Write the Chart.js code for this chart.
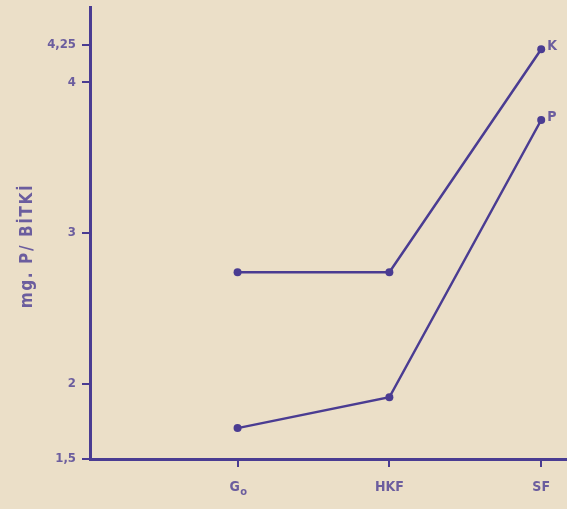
<!DOCTYPE html>
<html>
<head>
<meta charset="utf-8">
<script src="https://cdn.jsdelivr.net/npm/chart.js@4"></script>
<style>
  html, body { margin: 0; padding: 0; background: #ebdfc8; }
  #wrap { width: 567px; height: 509px; position: relative; }
</style>
</head>
<body>
<div id="wrap"><canvas id="grafico"></canvas></div>
<script>
const categories = ['Go', 'HKF', 'SF'];
const serieK = [2.74, 2.74, 4.22];
const serieP = [1.705, 1.91, 3.75];
const seriesNames = ['K', 'P'];
const yTicks = [1.5, 2, 3, 4, 4.25];
const yTickLabels = ['1,5', '2', '3', '4', '4,25'];
const yTitle = 'mg. P/ BİTKİ';

const ink = '#4a3c92';
const textInk = '#6b5d9e';
const fontFam = "'DejaVu Sans Condensed', 'DejaVu Sans', sans-serif";

function pts(arr) {
    return arr.map((v, i) => ({ x: i, y: v }));
}

// names written next to the last point of each line
const endLabels = {
    id: 'endLabels',
    afterDatasetsDraw(chart) {
        const ctx = chart.ctx;
        ctx.save();
        ctx.fillStyle = textInk;
        ctx.font = 'bold 14px ' + fontFam;
        ctx.textBaseline = 'middle';
        chart.data.datasets.forEach((ds, i) => {
            const meta = chart.getDatasetMeta(i);
            const last = meta.data[meta.data.length - 1];
            ctx.fillText(seriesNames[i], last.x + 6, last.y - 3);
        });
        ctx.restore();
    }
};

// category names under the axis (subscript "o" in G_o) and the spaced-out y title
const extraText = {
    id: 'extraText',
    afterDraw(chart) {
        const x = chart.scales.x;
        const a = chart.chartArea;
        const ctx = chart.ctx;
        ctx.save();
        ctx.fillStyle = textInk;
        ctx.textBaseline = 'middle';
        ctx.textAlign = 'center';
        categories.forEach((c, i) => {
            const px = x.getPixelForValue(i);
            ctx.font = 'bold 14px ' + fontFam;
            if (c === 'Go') {
                ctx.fillText('G', px - 3, 487);
                ctx.font = 'bold 11px ' + fontFam;
                ctx.fillText('o', px + 6, 492);
            } else {
                ctx.fillText(c, px, 487);
            }
        });
        ctx.translate(28, (a.top + a.bottom) / 2 + 13);
        ctx.rotate(-Math.PI / 2);
        ctx.font = 'bold 17px ' + fontFam;
        ctx.letterSpacing = '1.6px';
        ctx.fillText(yTitle, 0, 0);
        ctx.restore();
    }
};

new Chart(document.getElementById('grafico'), {
    type: 'line',
    data: {
        datasets: [
            { label: seriesNames[0], data: pts(serieK), borderColor: ink, backgroundColor: ink, borderWidth: 2.5, pointRadius: 4, pointBorderWidth: 0, tension: 0 },
            { label: seriesNames[1], data: pts(serieP), borderColor: ink, backgroundColor: ink, borderWidth: 2.5, pointRadius: 4, pointBorderWidth: 0, tension: 0 }
        ]
    },
    options: {
        responsive: true, maintainAspectRatio: false, animation: false,
        layout: { autoPadding: false, padding: { top: 7, right: 0, left: 0, bottom: 0 } },
        plugins: { legend: { display: false }, tooltip: { enabled: false } },
        scales: {
            x: {
                type: 'linear', min: -0.972, max: 2.17,
                afterBuildTicks: (s) => { s.ticks = categories.map((c, i) => ({ value: i })); },
                afterFit: (s) => { s.height = 50; s.paddingLeft = 0; s.paddingRight = 0; },
                ticks: { display: true, color: 'rgba(0,0,0,0)', font: { size: 13 } },
                grid: { drawOnChartArea: false, color: ink, lineWidth: 2, tickLength: 8 },
                border: { color: ink, width: 3 }
            },
            y: {
                min: 1.5, max: 4.5,
                afterBuildTicks: (s) => { s.ticks = yTicks.map(v => ({ value: v })); },
                afterFit: (s) => { s.width = 90; s.paddingTop = 0; s.paddingBottom = 0; },
                ticks: {
                    color: textInk, padding: 6,
                    font: { family: fontFam, size: 13, weight: 'bold' },
                    callback: (v) => yTickLabels[yTicks.indexOf(v)]
                },
                grid: { drawOnChartArea: false, color: ink, lineWidth: 2, tickLength: 8 },
                border: { color: ink, width: 3 },
                title: { display: false }
            }
        }
    },
    plugins: [endLabels, extraText]
});
</script>
</body>
</html>
